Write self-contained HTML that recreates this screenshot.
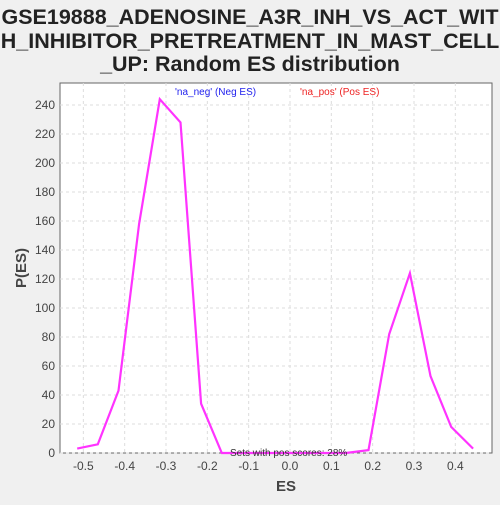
<!DOCTYPE html>
<html><head><meta charset="utf-8"><style>
body{margin:0;background:#f0f0f0;width:500px;height:500px;overflow:hidden;font-family:"Liberation Sans","DejaVu Sans",sans-serif}
</style></head><body>
<svg id="c" width="500" height="500">
<text x="250" y="24" text-anchor="middle" font-size="21.5" font-weight="bold" fill="#222">GSE19888_ADENOSINE_A3R_INH_VS_ACT_WIT</text>
<text x="250" y="48" text-anchor="middle" font-size="21.5" font-weight="bold" fill="#222">H_INHIBITOR_PRETREATMENT_IN_MAST_CELL</text>
<text x="250" y="71" text-anchor="middle" font-size="21.5" font-weight="bold" fill="#222">_UP: Random ES distribution</text>
<rect x="60" y="83" width="432" height="370" fill="#fff" stroke="#666"/>
<g id="grid"></g>
<g id="ticks"></g>
<text x="175" y="95" font-size="10" fill="#2222ee">'na_neg' (Neg ES)</text>
<text x="300" y="95" font-size="10" fill="#ee2222">'na_pos' (Pos ES)</text>
<path id="line" fill="none" stroke="#ff33ff" stroke-width="2.2"/>
<text x="230" y="456" font-size="10" fill="#333">Sets with pos scores: 28%</text>
<text x="276" y="491" font-size="15" font-weight="bold" fill="#444">ES</text>
<text x="26" y="268" font-size="15" font-weight="bold" fill="#444" transform="rotate(-90 26 268)" text-anchor="middle">P(ES)</text>
</svg>
<script>
const xs=[-0.515,-0.465,-0.415,-0.365,-0.315,-0.265,-0.215,-0.165,-0.115,-0.065,-0.015,0.035,0.085,0.135,0.19,0.24,0.29,0.34,0.39,0.443];
const ys=[3,6,43,158,244,228,34,0,0,0,0,0,0,0,2,82,124,53,18,3];
const xTicks=[-0.5,-0.4,-0.3,-0.2,-0.1,0.0,0.1,0.2,0.3,0.4];
const yTicks=[0,20,40,60,80,100,120,140,160,180,200,220,240];
const X=v=>290+v*413.3, Y=v=>453-v*1.45;
const ns="http://www.w3.org/2000/svg";
const g=document.getElementById('grid'),t=document.getElementById('ticks');
function mk(tag,a,p){const e=document.createElementNS(ns,tag);for(const k in a)e.setAttribute(k,a[k]);p.appendChild(e);return e;}
xTicks.forEach(v=>{
const l=mk('line',{x1:X(v),x2:X(v),y1:83,y2:453,stroke:'#ddd','stroke-dasharray':'3,3'},g);


const s=mk('text',{x:X(v),y:470,'text-anchor':'middle','font-size':'12',fill:'#444'},t);
s.textContent=v.toFixed(1);


});
yTicks.forEach(v=>{
const l=mk('line',{x1:60,x2:492,y1:Y(v),y2:Y(v),stroke:'#ddd','stroke-dasharray':'3,3'},g);


const s=mk('text',{x:55,y:Y(v)+4,'text-anchor':'end','font-size':'12',fill:'#444'},t);
s.textContent=v;


});
document.getElementById('line').setAttribute('d',xs.map((v,i)=>(i?'L':'M')+X(v).toFixed(1)+','+Y(ys[i]).toFixed(1)).join(''));
</script>
</body></html>
